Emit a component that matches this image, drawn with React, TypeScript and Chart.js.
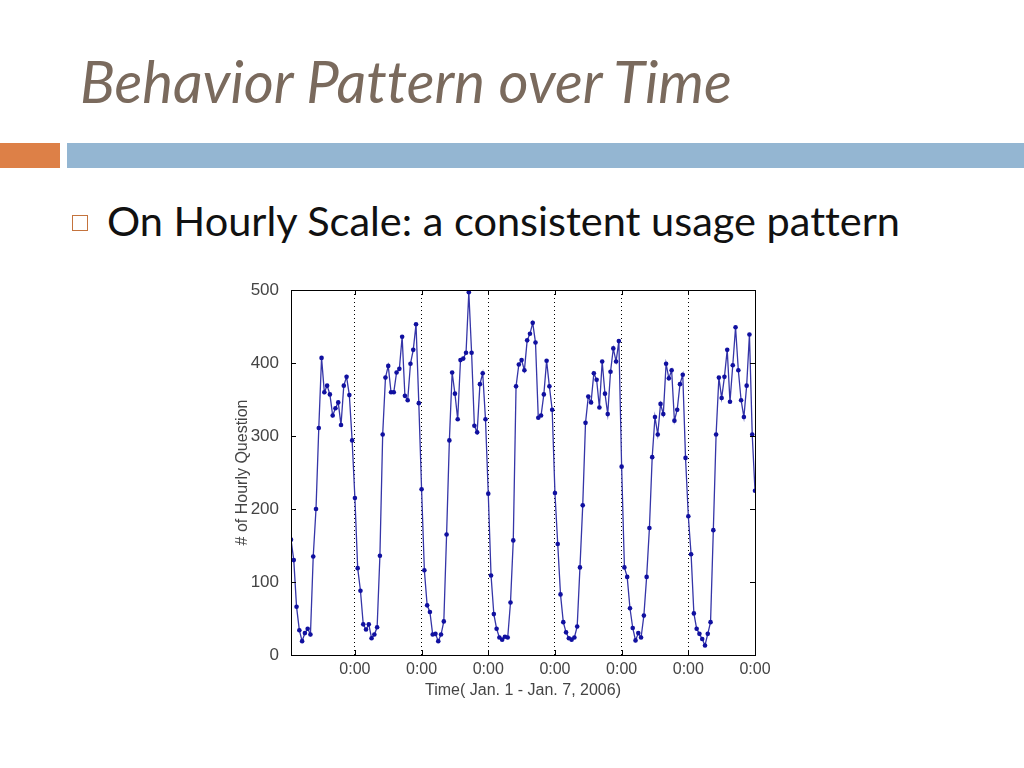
import React, { useEffect, useRef } from "react";
import { Chart, registerables } from "chart.js";

Chart.register(...registerables);

// Hourly question counts, Jan 1 - Jan 7, 2006 (one array per day, 24 hourly values each)
const day1 = [158, 130, 66, 34, 19, 30, 36, 28, 135, 200, 311, 407, 360, 369, 357, 328, 338, 346, 315, 369, 381, 356, 294, 215];
const day2 = [119, 88, 42, 35, 42, 23, 28, 38, 136, 302, 380, 396, 360, 360, 387, 392, 436, 355, 349, 399, 418, 453, 345, 227];
const day3 = [116, 68, 59, 28, 29, 19, 28, 46, 165, 294, 387, 358, 323, 404, 406, 414, 497, 414, 314, 305, 371, 386, 323, 221];
const day4 = [109, 56, 36, 24, 21, 25, 24, 72, 157, 368, 398, 404, 390, 431, 440, 455, 428, 325, 328, 357, 403, 368, 336, 222];
const day5 = [152, 83, 45, 31, 23, 21, 24, 39, 120, 205, 318, 354, 346, 386, 377, 339, 402, 358, 330, 388, 420, 402, 430, 258];
const day6 = [120, 107, 64, 37, 20, 30, 24, 54, 107, 174, 271, 326, 302, 344, 330, 399, 379, 390, 321, 336, 371, 384, 270, 190];
const day7 = [138, 57, 36, 29, 22, 13, 29, 45, 171, 302, 380, 352, 381, 418, 347, 397, 449, 390, 349, 326, 369, 439, 302, 225];

const hourlyQuestions = [...day1, ...day2, ...day3, ...day4, ...day5, ...day6, ...day7];

// x-axis ticks (hour index of each midnight) and their labels
const midnightHours = [23, 47, 71, 95, 119, 143, 167];
const midnightLabels = ["0:00", "0:00", "0:00", "0:00", "0:00", "0:00", "0:00"];
const yTickValues = [0, 100, 200, 300, 400, 500];

const slideTitle = "Behavior Pattern over Time";
const bulletText = "On Hourly Scale: a consistent usage pattern";
const xAxisTitle = "Time( Jan. 1 - Jan. 7, 2006)";
const yAxisTitle = "# of Hourly Question";

const AXIS_FONT = "'Liberation Sans', Arial, sans-serif";
const AXIS_TEXT = "#444";

const framePlugin = {
  id: "matlabFrame",
  afterDatasetsDraw(chart: any) {
    const { ctx, chartArea, scales } = chart;
    const { left, right, top, bottom } = chartArea;
    ctx.save();
    ctx.strokeStyle = "#000";
    ctx.lineWidth = 1;
    ctx.setLineDash([]);
    ctx.strokeRect(Math.round(left) + 0.5, Math.round(top) + 0.5, Math.round(right - left), Math.round(bottom - top));
    const tl = 5;
    ctx.beginPath();
    yTickValues.forEach((v) => {
      const py = Math.round(scales.y.getPixelForValue(v)) + 0.5;
      ctx.moveTo(left, py);
      ctx.lineTo(left + tl, py);
      ctx.moveTo(right, py);
      ctx.lineTo(right - tl, py);
    });
    midnightHours.forEach((h) => {
      const px = Math.round(scales.x.getPixelForValue(h)) + 0.5;
      ctx.moveTo(px, bottom);
      ctx.lineTo(px, bottom - tl);
      ctx.moveTo(px, top);
      ctx.lineTo(px, top + tl);
    });
    ctx.stroke();
    ctx.restore();
  },
};

function HourlyChart() {
  const ref = useRef<HTMLCanvasElement | null>(null);
  useEffect(() => {
    if (!ref.current) return;
    const chart = new Chart(ref.current, {
      type: "line",
      data: {
        datasets: [
          {
            data: hourlyQuestions.map((v, i) => ({ x: i, y: v })),
            borderColor: "#3535a8",
            borderWidth: 1.3,
            pointRadius: 2.3,
            pointBackgroundColor: "#1010a0",
            pointBorderColor: "#1010a0",
            pointBorderWidth: 0,
            tension: 0,
            fill: false,
          },
        ],
      },
      options: {
        animation: false,
        responsive: false,
        maintainAspectRatio: false,
        devicePixelRatio: 1,
        layout: { padding: { left: 0, top: 20, right: 45, bottom: 0 } },
        plugins: { legend: { display: false }, tooltip: { enabled: false } },
        scales: {
          x: {
            type: "linear",
            min: 0,
            max: 167,
            afterBuildTicks: (s: any) => {
              s.ticks = midnightHours.map((v) => ({ value: v }));
            },
            afterFit: (s: any) => {
              s.height = 65;
            },
            ticks: {
              autoSkip: false,
              maxRotation: 0,
              padding: 5,
              color: AXIS_TEXT,
              font: { family: AXIS_FONT, size: 16 },
              callback: (_v: any, i: number) => midnightLabels[i],
            },
            grid: { display: true, drawTicks: false, color: "#000", lineWidth: 1 },
            border: { display: false, dash: [1, 3] },
            title: {
              display: true,
              text: xAxisTitle,
              color: AXIS_TEXT,
              font: { family: AXIS_FONT, size: 16 },
              padding: { top: 0, bottom: 20 },
            },
          },
          y: {
            min: 0,
            max: 500,
            afterFit: (s: any) => {
              s.width = 91;
            },
            ticks: {
              stepSize: 100,
              padding: 4,
              color: AXIS_TEXT,
              font: { family: AXIS_FONT, size: 17 },
            },
            grid: { display: false },
            border: { display: false },
            title: {
              display: true,
              text: yAxisTitle,
              color: AXIS_TEXT,
              font: { family: AXIS_FONT, size: 16 },
              padding: { top: 33, bottom: 0 },
            },
          },
        },
      },
      plugins: [framePlugin],
    } as any);
    return () => chart.destroy();
  }, []);
  return (
    <canvas
      ref={ref}
      width={600}
      height={450}
      style={{ position: "absolute", left: 200, top: 270, width: 600, height: 450 }}
    />
  );
}

export default function App() {
  useEffect(() => {
    document.body.style.margin = "0";
  }, []);
  return (
    <div
      style={{
        position: "absolute",
        left: 0,
        top: 0,
        width: 1024,
        height: 768,
        background: "#fff",
        overflow: "hidden",
      }}
    >
      <div
        style={{
          position: "absolute",
          left: 80,
          top: 52,
          fontFamily: "Lato, sans-serif",
          fontStyle: "italic",
          fontSize: 58,
          lineHeight: 1,
          color: "#7a6a5d",
          whiteSpace: "nowrap",
          fontVariantLigatures: "none",
        }}
      >
        {slideTitle}
      </div>
      <div style={{ position: "absolute", left: 0, top: 143, width: 60, height: 25, background: "#dd8047" }} />
      <div style={{ position: "absolute", left: 67, top: 143, width: 957, height: 25, background: "#94b6d2" }} />
      <div
        style={{
          position: "absolute",
          left: 72,
          top: 215,
          width: 14,
          height: 14,
          border: "1.5px solid #c4733d",
        }}
      />
      <div
        style={{
          position: "absolute",
          left: 107,
          top: 200,
          fontFamily: "Lato, sans-serif",
          fontSize: 41.5,
          lineHeight: 1,
          color: "#111",
          whiteSpace: "nowrap",
          fontVariantLigatures: "none",
        }}
      >
        {bulletText}
      </div>
      <HourlyChart />
    </div>
  );
}
